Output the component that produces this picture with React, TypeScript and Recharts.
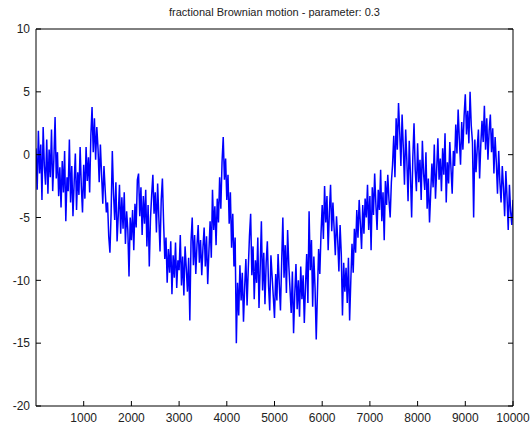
import { LineChart, Line, XAxis, YAxis } from "recharts";

const TITLE = "fractional Brownian motion - parameter: 0.3";
const X_TICKS = [1000, 2000, 3000, 4000, 5000, 6000, 7000, 8000, 9000, 10000];
const Y_TICKS = [-20, -15, -10, -5, 0, 5, 10];
const SAMPLE_STEP = 25;

// one row = 500 time steps
const fbmPath = [
  0.5, -2.8, 1.9, -1.5, 0.8, -3.6, 2.2, -0.9, -2.4, 1.2, -3.1, 0.4, -1.8, 2.0, -2.9, -0.3, 3.0, -1.9, 0.2, -3.3,
  -1.0, -4.2, -0.5, -3.0, 0.3, -5.3, -1.8, -2.9, 1.2, -3.8, -0.9, -4.9, -2.2, 0.1, -4.4, -1.4, -3.2, 0.6, -2.5, -4.6,
  -0.8, -3.5, 0.6, -2.1, -0.2, -3.0, 1.5, 3.8, 0.2, 2.9, -0.4, 2.2, 0.5, -2.2, 0.8, -1.6, -3.9, -0.9, -2.8, -4.6,
  -3.8, -6.5, -7.8, -4.6, 0.3, -3.1, -5.2, -2.2, -6.9, -4.8, -2.4, -6.3, -3.4, -5.9, -3.0, -7.1, -4.5, -6.0, -9.7, -5.0,
  -6.8, -4.4, -7.6, -3.9, -5.8, -2.0, -1.5, -4.9, -2.6, -6.4, -3.3, -5.5, -2.8, -7.3, -4.0, -8.9, -5.1, -3.2, -1.6, -4.7,
  -3.0, -6.2, -2.3, -5.0, -7.7, -3.6, -1.9, -5.4, -8.3, -6.6, -10.2, -7.5, -9.4, -6.9, -11.1, -8.0, -9.8, -7.0, -10.6, -8.4,
  -9.2, -6.4, -10.4, -8.1, -11.2, -7.3, -9.0, -10.9, -8.2, -13.2, -6.9, -5.0, -8.8, -6.4, -9.5, -7.2, -5.6, -8.6, -6.8, -9.6,
  -7.4, -5.8, -8.9, -6.5, -10.3, -7.7, -5.3, -8.2, -2.8, -6.0, -4.1, -7.2, -3.5, -5.4, -1.8, -4.3, -0.6, 1.4, -2.0, -0.3,
  -3.6, -1.6, -5.5, -3.0, -7.4, -4.7, -8.9, -6.6, -15.0, -10.2, -12.8, -8.8, -11.6, -9.4, -13.3, -10.5, -8.3, -12.0, -9.1, -6.5,
  -4.7, -9.6, -7.3, -11.5, -8.4, -10.2, -6.6, -12.2, -9.0, -5.3, -10.8, -7.8, -11.9, -8.6, -6.9, -10.4, -12.4, -8.0, -9.7, -11.3,
  -13.0, -9.5, -11.6, -7.9, -10.3, -12.4, -8.6, -5.0, -9.8, -7.2, -11.0, -6.0, -8.8, -10.7, -12.6, -9.3, -14.2, -11.1, -8.7, -12.3,
  -10.0, -12.9, -8.9, -11.5, -9.6, -13.4, -10.4, -7.9, -11.8, -4.5, -9.2, -6.8, -12.1, -8.1, -10.6, -14.7, -11.0, -7.5, -9.5, -6.3,
  -4.0, -6.7, -2.5, -5.4, -3.3, -7.6, -4.6, -2.4, -6.1, -3.8, -5.9, -8.0, -4.9, -6.8, -9.3, -5.6, -7.9, -12.8, -8.6, -10.9,
  -9.0, -11.8, -8.2, -13.2, -10.0, -7.1, -9.4, -5.9, -7.8, -4.4, -6.6, -3.6, -5.5, -7.5, -4.0, -6.3, -3.5, -5.0, -2.4, -6.0,
  -3.3, -7.6, -2.6, -4.8, -1.5, -3.9, -6.0, -2.8, -4.4, -1.2, -5.3, -3.0, -6.8, -2.1, -4.0, -1.6, -3.6, -5.0, -2.2, -0.8,
  1.5, -1.8, 2.9, 0.4, 4.1, 1.8, -0.9, 3.2, 0.6, -2.4, 2.0, -0.5, -3.7, 1.1, -1.6, -5.0, -0.2, 2.5, -1.2, -2.9,
  0.9, -2.2, -0.4, -3.6, 1.1, -1.5, -2.8, 0.2, -4.3, -1.9, -5.4, -3.0, -0.7, -2.6, 0.8, -3.5, -1.2, 1.3, -2.0, -0.3,
  -2.9, 0.5, -1.6, 1.7, -3.8, -0.6, -2.3, 1.0, -1.1, -3.1, 0.3, -0.9, 2.4, 0.1, 3.6, 1.2, -0.8, 2.6, 0.4, 3.1,
  4.8, 1.6, 3.5, 0.9, 5.0, 2.3, 1.0, -5.0, 1.2, -1.4, 0.5, 2.0, -1.9, 0.8, 2.7, 1.0, 3.9, 0.4, 2.9, -0.4,
  1.9, 3.2, 0.2, 2.1, -1.5, 1.4, -0.6, -3.1, 0.3, -2.2, -3.8, -0.9, -2.6, -4.9, -1.3, -3.4, -6.0, -2.4, -4.5, -5.6,
  -3.6,
];

const chartData = fbmPath.map((v, i) => ({ t: i * SAMPLE_STEP, v }));

const FONT = "Arial, 'Liberation Sans', Helvetica, sans-serif";
const tickStyle = { fontSize: 12, fill: "#222", fontFamily: FONT };
const blank = () => "";

export default function App() {
  return (
    <div style={{ position: "absolute", left: 0, top: 0, width: 530, height: 430, background: "#fff" }}>
      <div
        style={{
          position: "absolute", top: 5, left: 36, width: 477, textAlign: "center",
          fontFamily: FONT, fontSize: 11, color: "#222", lineHeight: "14px",
        }}
      >
        {TITLE}
      </div>
      <LineChart width={530} height={430} data={chartData} margin={{ top: 0, right: 0, bottom: 0, left: 0 }}>
        <XAxis
          dataKey="t" type="number" domain={[0, 10000]} ticks={X_TICKS} height={24}
          tickSize={-5} tickMargin={12} tick={tickStyle} interval={0}
          axisLine={{ stroke: "#000" }} tickLine={{ stroke: "#000" }} allowDataOverflow
        />
        <XAxis
          xAxisId="top" orientation="top" type="number" domain={[0, 10000]} ticks={X_TICKS} height={29}
          tickSize={-5} tickFormatter={blank} interval={0}
          axisLine={{ stroke: "#000" }} tickLine={{ stroke: "#000" }} allowDataOverflow
        />
        <YAxis
          type="number" domain={[-20, 10]} ticks={Y_TICKS} width={36}
          tickSize={-5} tickMargin={11} tick={tickStyle} interval={0}
          axisLine={{ stroke: "#000" }} tickLine={{ stroke: "#000" }} allowDataOverflow
        />
        <YAxis
          yAxisId="right" orientation="right" type="number" domain={[-20, 10]} ticks={Y_TICKS} width={17}
          tickSize={-5} tickFormatter={blank} interval={0}
          axisLine={{ stroke: "#000" }} tickLine={{ stroke: "#000" }} allowDataOverflow
        />
        <Line
          dataKey="v" type="linear" stroke="#0000ff" strokeWidth={1.5} dot={false}
          isAnimationActive={false}
        />
      </LineChart>
    </div>
  );
}
